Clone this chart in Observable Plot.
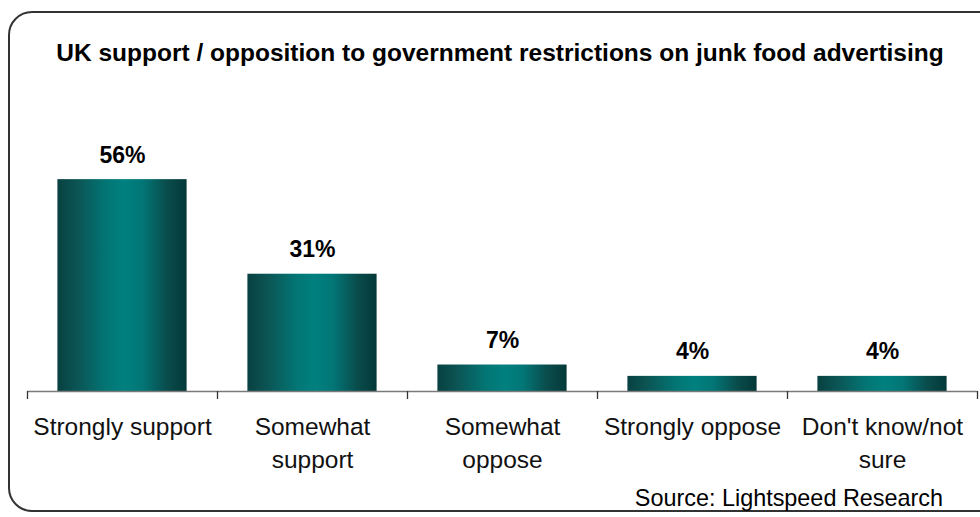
<!DOCTYPE html>
<html>
<head>
<meta charset="utf-8">
<script src="https://cdn.jsdelivr.net/npm/d3@7"></script>
<script src="https://cdn.jsdelivr.net/npm/@observablehq/plot@0.6"></script>
<style>
  html, body { margin: 0; padding: 0; background: #fff; overflow: hidden; }
  #wrap { position: relative; width: 980px; height: 517px; overflow: hidden; font-family: "Liberation Sans", Arial, sans-serif; }
  #border { position: absolute; left: 8px; top: 11px; width: 1010px; height: 501px; border: 2px solid #333; border-radius: 24px; box-sizing: border-box; }
  #title { position: absolute; left: 0; top: 40px; width: 1000px; text-align: center; font-weight: bold; font-size: 24.5px; line-height: 25px; color: #000; white-space: nowrap; }
  #source { position: absolute; right: 37px; top: 486px; font-size: 23.4px; line-height: 24px; color: #000; white-space: nowrap; }
  #chart { position: absolute; left: 0; top: 0; }
</style>
</head>
<body>
<svg width="0" height="0" style="position:absolute">
  <defs>
    <linearGradient id="barGrad" x1="0" y1="0" x2="1" y2="0">
      <stop offset="0" stop-color="#084141"/>
      <stop offset="0.15" stop-color="#0c5454"/>
      <stop offset="0.38" stop-color="#027674"/>
      <stop offset="0.52" stop-color="#008080"/>
      <stop offset="0.66" stop-color="#027676"/>
      <stop offset="0.85" stop-color="#0a4c4c"/>
      <stop offset="1" stop-color="#043838"/>
    </linearGradient>
  </defs>
</svg>
<div id="wrap">
  <div id="border"></div>
  <div id="title">UK support / opposition to government restrictions on junk food advertising</div>
  <div id="chart"></div>
  <div id="source">Source: Lightspeed Research</div>
</div>
<script>
const categories = ["Strongly support", "Somewhat support", "Somewhat oppose", "Strongly oppose", "Don't know/not sure"];
const tickLabels = ["Strongly support", "Somewhat\nsupport", "Somewhat\noppose", "Strongly oppose", "Don't know/not\nsure"];
const values = [56, 31, 7, 4, 4];
const valueLabels = ["56%", "31%", "7%", "4%", "4%"];

const data = categories.map((c, i) => ({i, category: c, value: values[i], label: valueLabels[i], tick: tickLabels[i]}));
const boundaries = d3.range(categories.length + 1);

const chart = Plot.plot({
  width: 980,
  height: 517,
  marginLeft: 27,
  marginRight: 3,
  marginTop: 164,
  marginBottom: 126,
  style: {background: "transparent", fontFamily: "Liberation Sans, Arial, sans-serif", overflow: "visible"},
  x: {type: "linear", domain: [0, categories.length], axis: null},
  y: {type: "linear", domain: [0, 60], axis: null},
  marks: [
    Plot.rectY(data, {x1: d => d.i + 0.16, x2: d => d.i + 0.84, y1: 0, y2: "value", fill: "url(#barGrad)"}),
    Plot.ruleY([0], {stroke: "#7a7a7a", strokeWidth: 1.5}),
    Plot.ruleX(boundaries, {x: d => d, y1: 0, y2: 0, insetBottom: -8, stroke: "#333", strokeWidth: 1.3}),
    Plot.text(data, {x: d => d.i + 0.5, y: "value", text: "label", dy: -17, lineAnchor: "bottom", fontSize: 23, fontWeight: "bold", fill: "#000"}),
    Plot.text(data, {x: d => d.i + 0.5, y: 0, text: "tick", dy: 20, lineAnchor: "top", lineHeight: 1.35, fontSize: 24.5, fill: "#111"})
  ]
});
document.getElementById("chart").appendChild(chart);
</script>
</body>
</html>
